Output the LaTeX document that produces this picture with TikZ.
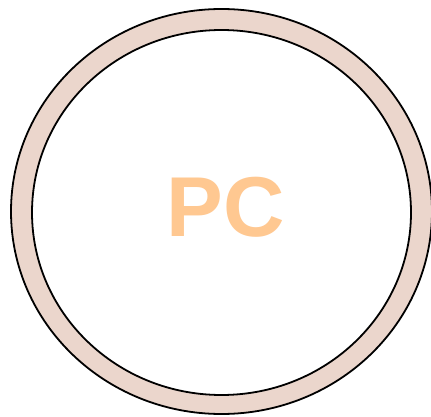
\documentclass[tikz,border=0pt]{standalone}
\usepackage{fontspec}
\setmainfont{Liberation Sans}
\usetikzlibrary{positioning,shapes.geometric}
\definecolor{ringpink}{RGB}{235,214,204}
\definecolor{pcorange}{RGB}{255,200,145}

\begin{document}
\begin{tikzpicture}[
    x=1pt, y=-1pt,
    ring/.style={draw=black, line width=1.8pt, ellipse, inner sep=0pt}
]
    \useasboundingbox (0,0) rectangle (431,417);
    \node[ring, fill=ringpink, minimum width=421pt, minimum height=405pt] (outer) at (221.5,211.5) {};
    \node[ring, fill=white, minimum width=379pt, minimum height=365pt] (inner) at (221.5,212.5) {};
    \node[text=pcorange, font=\fontsize{85}{85}\selectfont\bfseries, inner sep=0pt] (pc) at (226,207) {PC};
\end{tikzpicture}
\end{document}
